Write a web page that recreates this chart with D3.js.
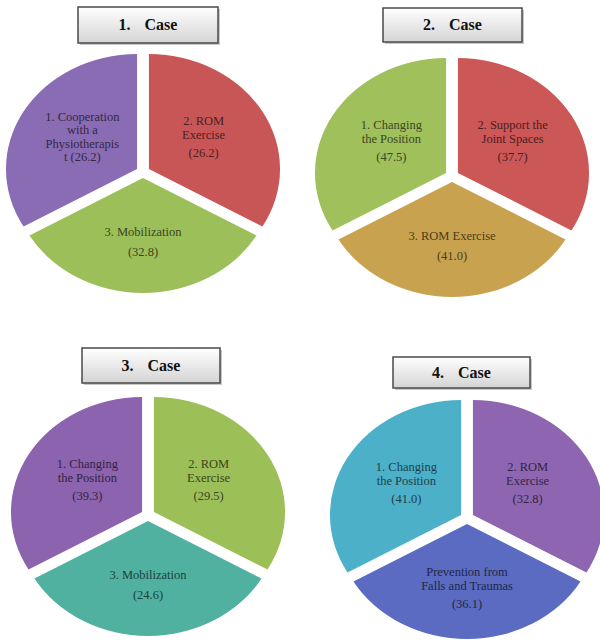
<!DOCTYPE html>
<html>
<head>
<meta charset="utf-8">
<script src="https://cdn.jsdelivr.net/npm/d3@7"></script>
<style>
  body { margin: 0; background: #fff; }
  svg { display: block; }
</style>
</head>
<body>
<div id="chart"></div>
<script>
// dimensions
const width = 600;
const height = 640;

// données
const caseNumbers = ["1.", "2.", "3.", "4."];
const caseWord = "Case";

const case1Names = [["1. Cooperation", "with a", "Physiotherapis", "t"], ["2. ROM", "Exercise"], ["3. Mobilization"]];
const case1Values = [26.2, 26.2, 32.8];
const case1Colors = ["#8a6cb5", "#c95656", "#9dbf5a"];

const case2Names = [["1. Changing", "the Position"], ["2. Support the", "Joint Spaces"], ["3. ROM Exercise"]];
const case2Values = [47.5, 37.7, 41.0];
const case2Colors = ["#9fc05b", "#cb5757", "#c9a24f"];

const case3Names = [["1. Changing", "the Position"], ["2. ROM", "Exercise"], ["3. Mobilization"]];
const case3Values = [39.3, 29.5, 24.6];
const case3Colors = ["#8b63ae", "#9dbf58", "#50b1a1"];

const case4Names = [["1. Changing", "the Position"], ["2. ROM", "Exercise"], ["Prevention from", "Falls and Traumas"]];
const case4Values = [41.0, 32.8, 36.1];
const case4Colors = ["#4cb0c9", "#8e65b1", "#5a6bc1"];

// mise en page de chaque panneau
const panels = [
    { names: case1Names, values: case1Values, colors: case1Colors, cx: 143, cy: 172, box: [78, 7, 140, 36] },
    { names: case2Names, values: case2Values, colors: case2Colors, cx: 452, cy: 176, box: [383, 8, 139, 34] },
    { names: case3Names, values: case3Values, colors: case3Colors, cx: 148, cy: 515, box: [82, 348, 138, 35] },
    { names: case4Names, values: case4Values, colors: case4Colors, cx: 467, cy: 518, box: [393, 357, 137, 31] }
];

const R = 115;        // rayon
const sx = 1.14;      // étirement horizontal de l'image
const explode = 6;    // décalage des parts
const labelR = 64;
const fmt = d3.format(".1f");

const svg = d3.select("#chart").append("svg")
    .attr("width", width)
    .attr("height", height);

const defs = svg.append("defs");
const grad = defs.append("linearGradient")
    .attr("id", "boxGrad")
    .attr("x1", 0).attr("y1", 0).attr("x2", 0).attr("y2", 1);
grad.append("stop").attr("offset", "0%").attr("stop-color", "#ffffff");
grad.append("stop").attr("offset", "100%").attr("stop-color", "#d4d4d4");

// les parts sont égales (tiers) comme sur l'image
const pie = d3.pie()
    .value(() => 1)
    .sort(null)
    .startAngle(-2 * Math.PI / 3)
    .endAngle(4 * Math.PI / 3);

const arc = d3.arc().innerRadius(0).outerRadius(R);

panels.forEach((p, i) => {
    const items = p.names.map((n, k) => ({ name: n, value: p.values[k], color: p.colors[k] }));
    const arcs = pie(items);

    // parts
    const g = svg.append("g")
        .attr("transform", `translate(${p.cx},${p.cy}) scale(${sx},1)`);

    g.selectAll("path")
        .data(arcs)
        .join("path")
        .attr("d", arc)
        .attr("fill", d => d.data.color)
        .attr("transform", d => {
            const mid = (d.startAngle + d.endAngle) / 2;
            return `translate(${explode * Math.sin(mid)},${-explode * Math.cos(mid)})`;
        });

    // étiquettes
    const lineH = 13.5;
    arcs.forEach(d => {
        const mid = (d.startAngle + d.endAngle) / 2;
        const x = p.cx + (labelR + explode) * Math.sin(mid);
        const y = p.cy - (labelR + explode) * Math.cos(mid);

        const lines = d.data.name.slice();
        const valText = `(${fmt(d.data.value)})`;
        const rows = [];
        const last = lines[lines.length - 1];
        if (last.length <= 2) {
            lines.forEach((l, k) => rows.push({ t: k === lines.length - 1 ? `${l} ${valText}` : l, dy: k === 0 ? 0 : lineH }));
        } else {
            lines.forEach((l, k) => rows.push({ t: l, dy: k === 0 ? 0 : lineH }));
            rows.push({ t: valText, dy: lines.length > 1 ? 18 : 20 });
        }
        const total = d3.sum(rows, r => r.dy);

        const text = svg.append("text")
            .attr("x", x)
            .attr("y", y - total / 2 + 4)
            .attr("text-anchor", "middle")
            .attr("font-family", "'Liberation Serif', 'DejaVu Serif', serif")
            .attr("font-size", 12.5)
            .attr("fill", d3.color(d.data.color).darker(2.8));

        text.selectAll("tspan")
            .data(rows)
            .join("tspan")
            .attr("x", x)
            .attr("dy", r => r.dy)
            .text(r => r.t);
    });

    // boîte de titre
    const [bx, by, bw, bh] = p.box;
    svg.append("rect")
        .attr("x", bx + 2).attr("y", by + 2)
        .attr("width", bw).attr("height", bh)
        .attr("fill", "#c8c8c8");
    svg.append("rect")
        .attr("x", bx).attr("y", by)
        .attr("width", bw).attr("height", bh)
        .attr("fill", "url(#boxGrad)")
        .attr("stroke", "#4a4a4a")
        .attr("stroke-width", 1.5);

    const title = svg.append("text")
        .attr("x", bx + bw / 2)
        .attr("y", by + bh / 2 + 5)
        .attr("text-anchor", "middle")
        .attr("font-family", "'Liberation Serif', 'DejaVu Serif', serif")
        .attr("font-weight", "bold")
        .attr("font-size", 16)
        .attr("fill", "#111");
    title.append("tspan").text(caseNumbers[i]);
    title.append("tspan").attr("dx", 14).text(caseWord);
});
</script>
</body>
</html>
